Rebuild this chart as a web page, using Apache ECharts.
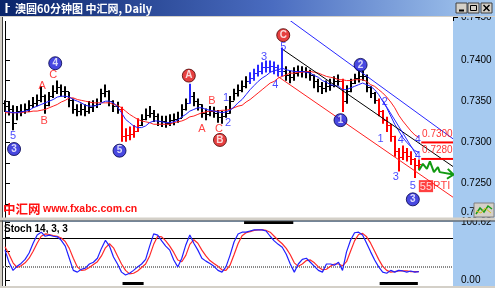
<!DOCTYPE html>
<html><head><meta charset="utf-8">
<script src="https://cdn.jsdelivr.net/npm/echarts@6/dist/echarts.min.js"></script>
<style>html,body{margin:0;padding:0;background:#fff;overflow:hidden}#c{width:495px;height:288px}</style>
</head><body><div id="c"></div>
<script>
// ---- price bars (hourly AUD/USD) ----
const opens = [0.7348,0.7344,0.7340,0.7324,0.7338,0.7338,0.7340,0.7345,0.7348,0.7352,
0.7356,0.7345,0.7356,0.7362,0.7367,0.7362,0.7362,0.7352,0.7340,0.7338,
0.7340,0.7338,0.7343,0.7345,0.7346,0.7360,0.7362,0.7350,0.7344,0.7340,
0.7308,0.7309,0.7310,0.7314,0.7321,0.7328,0.7333,0.7336,0.7332,0.7326,
0.7326,0.7324,0.7327,0.7328,0.7330,0.7340,0.7348,0.7356,0.7350,0.7346,
0.7336,0.7334,0.7338,0.7336,0.7331,0.7332,0.7336,0.7350,0.7360,0.7364,
0.7369,0.7374,0.7378,0.7384,0.7387,0.7391,0.7392,0.7393,0.7391,0.7386,
0.7386,0.7382,0.7379,0.7384,0.7387,0.7386,0.7385,0.7382,0.7374,0.7368,
0.7366,0.7368,0.7370,0.7374,0.7375,0.7350,0.7362,0.7372,0.7378,0.7380,
0.7381,0.7367,0.7360,0.7352,0.7338,0.7327,0.7321,0.7308,0.7290,0.7282,
0.7288,0.7284,0.7280,0.7273];
const closes = [0.7344,0.7340,0.7324,0.7338,0.7338,0.7340,0.7345,0.7348,0.7352,0.7356,
0.7345,0.7356,0.7362,0.7367,0.7362,0.7362,0.7352,0.7340,0.7338,0.7340,
0.7338,0.7343,0.7345,0.7346,0.7360,0.7362,0.7350,0.7344,0.7340,0.7308,
0.7309,0.7310,0.7314,0.7321,0.7328,0.7333,0.7336,0.7332,0.7326,0.7326,
0.7324,0.7327,0.7328,0.7330,0.7340,0.7348,0.7356,0.7350,0.7346,0.7336,
0.7334,0.7338,0.7336,0.7331,0.7332,0.7336,0.7350,0.7360,0.7364,0.7369,
0.7374,0.7378,0.7384,0.7387,0.7391,0.7392,0.7393,0.7391,0.7386,0.7386,
0.7382,0.7379,0.7384,0.7387,0.7386,0.7385,0.7382,0.7374,0.7368,0.7366,
0.7368,0.7370,0.7374,0.7375,0.7350,0.7362,0.7372,0.7378,0.7380,0.7381,
0.7367,0.7360,0.7352,0.7338,0.7327,0.7321,0.7308,0.7290,0.7282,0.7288,
0.7284,0.7280,0.7273,0.7274];
const highs = [0.7350,0.7348,0.7344,0.7343,0.7345,0.7346,0.7350,0.7354,0.7357,0.7367,
0.7357,0.7360,0.7368,0.7374,0.7369,0.7367,0.7360,0.7352,0.7345,0.7346,
0.7345,0.7349,0.7350,0.7352,0.7364,0.7369,0.7362,0.7350,0.7348,0.7342,
0.7316,0.7318,0.7320,0.7328,0.7333,0.7340,0.7343,0.7338,0.7334,0.7331,
0.7331,0.7333,0.7334,0.7336,0.7345,0.7352,0.7370,0.7360,0.7352,0.7345,
0.7340,0.7343,0.7342,0.7338,0.7337,0.7343,0.7355,0.7364,0.7369,0.7374,
0.7379,0.7384,0.7388,0.7393,0.7396,0.7398,0.7398,0.7397,0.7393,0.7414,
0.7391,0.7386,0.7390,0.7392,0.7391,0.7390,0.7387,0.7381,0.7376,0.7372,
0.7374,0.7376,0.7379,0.7381,0.7376,0.7368,0.7376,0.7382,0.7386,0.7386,
0.7381,0.7367,0.7360,0.7352,0.7338,0.7330,0.7321,0.7307,0.7292,0.7295,
0.7292,0.7288,0.7280,0.7278];
const lows = [0.7338,0.7334,0.7316,0.7328,0.7333,0.7336,0.7338,0.7343,0.7345,0.7350,
0.7336,0.7345,0.7355,0.7360,0.7357,0.7355,0.7344,0.7336,0.7333,0.7334,
0.7333,0.7336,0.7338,0.7343,0.7350,0.7356,0.7345,0.7338,0.7336,0.7302,
0.7302,0.7304,0.7307,0.7314,0.7321,0.7328,0.7331,0.7326,0.7321,0.7320,
0.7319,0.7321,0.7322,0.7325,0.7331,0.7340,0.7348,0.7345,0.7340,0.7331,
0.7328,0.7333,0.7331,0.7325,0.7324,0.7331,0.7336,0.7352,0.7357,0.7362,
0.7367,0.7372,0.7376,0.7381,0.7384,0.7386,0.7386,0.7384,0.7381,0.7381,
0.7376,0.7373,0.7376,0.7381,0.7380,0.7379,0.7376,0.7367,0.7362,0.7360,
0.7362,0.7364,0.7368,0.7370,0.7338,0.7348,0.7362,0.7372,0.7374,0.7376,
0.7362,0.7355,0.7348,0.7333,0.7324,0.7314,0.7302,0.7284,0.7266,0.7280,
0.7278,0.7274,0.7258,0.7268];
// ---- moving averages ----
const maFast = [0.7338,0.7337,0.7336,0.7336,0.7337,0.7338,0.7339,0.7342,0.7344,0.7346,
0.7348,0.7350,0.7352,0.7355,0.7356,0.7356,0.7355,0.7352,0.7350,0.7348,
0.7345,0.7344,0.7344,0.7345,0.7348,0.7350,0.7350,0.7348,0.7343,0.7336,
0.7328,0.7324,0.7320,0.7318,0.7318,0.7320,0.7324,0.7326,0.7326,0.7325,
0.7324,0.7324,0.7325,0.7327,0.7331,0.7334,0.7338,0.7340,0.7342,0.7342,
0.7340,0.7339,0.7338,0.7337,0.7336,0.7337,0.7339,0.7343,0.7348,0.7352,
0.7358,0.7364,0.7369,0.7374,0.7378,0.7381,0.7385,0.7387,0.7388,0.7390,
0.7388,0.7387,0.7386,0.7386,0.7386,0.7385,0.7384,0.7381,0.7379,0.7375,
0.7373,0.7370,0.7369,0.7368,0.7364,0.7364,0.7366,0.7368,0.7370,0.7372,
0.7370,0.7368,0.7364,0.7358,0.7350,0.7342,0.7332,0.7322,0.7314,0.7306,
0.7300,0.7295,0.7290,0.7288];
const maSlow = [0.7336,0.7336,0.7336,0.7336,0.7336,0.7337,0.7337,0.7338,0.7338,0.7339,
0.7340,0.7342,0.7344,0.7346,0.7349,0.7351,0.7354,0.7354,0.7352,0.7351,
0.7350,0.7349,0.7348,0.7348,0.7348,0.7348,0.7348,0.7346,0.7345,0.7342,
0.7338,0.7334,0.7331,0.7328,0.7326,0.7325,0.7324,0.7322,0.7322,0.7322,
0.7322,0.7322,0.7324,0.7325,0.7326,0.7328,0.7331,0.7332,0.7334,0.7336,
0.7337,0.7338,0.7338,0.7338,0.7339,0.7339,0.7340,0.7342,0.7344,0.7345,
0.7349,0.7352,0.7356,0.7360,0.7364,0.7368,0.7372,0.7374,0.7378,0.7380,
0.7382,0.7384,0.7384,0.7385,0.7385,0.7386,0.7386,0.7385,0.7384,0.7382,
0.7380,0.7379,0.7378,0.7376,0.7376,0.7375,0.7375,0.7376,0.7376,0.7376,
0.7374,0.7370,0.7368,0.7364,0.7360,0.7355,0.7349,0.7342,0.7333,0.7326,
0.7320,0.7314,0.7309,0.7306];
// ---- stochastic 14,3,3 ----
const stochK = [52,31,17,24,29,36,47,64,78,83,76,78,76,75,69,59,38,17,14,19,
21,28,31,38,55,69,59,40,28,14,9,12,17,23,28,36,59,80,78,68,
59,52,35,23,38,61,78,64,52,38,33,29,24,17,14,23,43,66,80,83,
83,85,87,87,87,85,76,68,62,57,45,28,14,28,36,38,31,24,17,14,
28,28,26,31,17,49,69,82,83,78,64,49,35,23,14,12,17,14,17,16,
14,16,14,15];
const stochD = [58,45,30,22,25,30,38,50,64,76,80,79,77,76,73,67,55,38,23,17,
18,22,27,32,42,56,63,56,42,28,17,11,12,16,22,28,42,62,76,75,
68,59,48,35,32,43,62,70,64,52,42,34,29,24,18,17,26,44,63,77,
82,84,86,87,87,86,83,76,69,63,55,44,30,24,28,34,35,30,23,18,
19,24,28,28,25,32,50,68,79,81,75,64,50,36,24,17,14,15,16,16,
16,15,15,15];
const stochLevels = [72, 23];
const stochTopBars = [[59.5, 71.75]];
const stochBottomBars = [[29.25, 34.5], [93.25, 102.75]];
// ---- axis ticks ----
const priceLabels = [0.7250, 0.7300, 0.7350, 0.7400];
const priceTopLabel = '0.7450';
const priceBottomLabel = '0.7210';
const priceTicks = [0.7225,0.7250,0.7275,0.7300,0.7325,0.7350,0.7375,0.7400,0.7425];
const stochLabels = [0, 100.62];
const stochTicks = [0, 25, 50, 75, 100];
// ---- Elliott wave annotations [barIndex, price, text] ----
const circledBlue = [[2.25,0.7292,'3'],[12.5,0.7396,'4'],[28.5,0.7290,'5'],[83.5,0.7327,'1'],[88.5,0.7394,'2'],[101.5,0.7231,'3']];
const circledRed = [[45.75,0.7381,'A'],[53.5,0.7303,'B'],[69.25,0.7430,'C']];
const waveBlue = [[2,0.7308,'5'],[55,0.7354,'1'],[55.5,0.7324,'2'],[64.5,0.7404,'3'],[67.25,0.7370,'4'],[69.25,0.7416,'5'],
  [93.5,0.7304,'1'],[94.5,0.7349,'2'],[97.25,0.7258,'3'],[98.5,0.7303,'4'],[101.5,0.7247,'5'],[102.75,0.7303,'4'],[102.75,0.7284,'4']];
const waveRed = [[9.25,0.7369,'A'],[9.75,0.7326,'B'],[12,0.7382,'C'],[49,0.7316,'A'],[51.5,0.7350,'B'],[53.25,0.7316,'C']];
const channelBlue = [[67.5,0.7460],[111.5,0.73044]];
const channelBlack = [[69.2,0.74124],[111.5,0.72708]];
const channelRed = [[67.9,0.7380],[111.5,0.72336]];
const waveLine = [[93.8,0.73524],[102.5,0.7284]];
const targets = [0.7300, 0.7280];
const targetSpan = [103.6, 111.5];
const targetTextX = 107.6;
const ptiPoint = [106.9, 0.7247];
const arrowPath = [[103,0.7266],[104,0.7274],[105,0.7268],[105.75,0.7277],[106.75,0.7264],[107.75,0.7270],[108.2,0.7264],[111.6,0.7261]];
const arrowHead = [[110.2,0.7268],[111.6,0.7261],[110.0,0.7256]];

const FONT = '"Liberation Sans", Arial, sans-serif';
const CJK = '"Noto Sans CJK SC", "Liberation Sans", sans-serif';
const barColorRanges = [{from:29,to:33,c:'#ff0000'},{from:84,to:84,c:'#ff0000'},{from:93,to:103,c:'#ff0000'},{from:46,to:46,c:'#2a2aff'},{from:61,to:69,c:'#2a2aff'}];
function barColor(i){ for (const r of barColorRanges) if (i>=r.from && i<=r.to) return r.c; return '#000'; }

const chart = echarts.init(document.getElementById('c'), null, {renderer:'canvas', width:495, height:288});

function seg(data, color, width, extra) {
  return Object.assign({type:'line', xAxisIndex:0, yAxisIndex:0, data:data, showSymbol:false, symbol:'none', silent:true,
    lineStyle:{color:color, width:width}, z:3, animation:false}, extra||{});
}
function textSeries(data, color, extra) {
  return Object.assign({type:'scatter', xAxisIndex:0, yAxisIndex:0, data:data, symbolSize:1, silent:true, z:6,
    itemStyle:{color:'rgba(0,0,0,0)'},
    label:{show:true, position:'inside', formatter:p=>p.value[2], color:color, fontSize:11, fontFamily:FONT}}, extra||{});
}

const series = [
  {type:'custom', xAxisIndex:0, yAxisIndex:0, silent:true, z:2,
   data: closes.map((c,i)=>[i, highs[i], lows[i], c, opens[i]]),
   encode:{x:0, y:[1,2,3,4]},
   renderItem:(params, api)=>{
     const x = api.value(0);
     const h = api.coord([x, api.value(1)]), l = api.coord([x, api.value(2)]);
     const c = api.coord([x, api.value(3)]), o = api.coord([x, api.value(4)]);
     const px = Math.round(h[0]);
     const cy = Math.round(c[1]) + 0.5, oy = Math.round(o[1]) + 0.5;
     const col = barColor(params.dataIndex);
     return {type:'group', children:[
       {type:'line', shape:{x1:px, y1:h[1]-1, x2:px, y2:l[1]+1}, style:{stroke:col, lineWidth:2}},
       {type:'line', shape:{x1:px, y1:cy, x2:px+2.5, y2:cy}, style:{stroke:col, lineWidth:1}},
       {type:'line', shape:{x1:px-2.5, y1:oy, x2:px, y2:oy}, style:{stroke:col, lineWidth:1}}
     ]};
   }},
  seg(maSlow.map((v,i)=>[i,v]), '#ff2020', 1),
  seg(maFast.map((v,i)=>[i,v]), '#2020ff', 1),
  seg(channelBlue, '#2828ff', 1),
  seg(channelBlack, '#000', 1),
  seg(channelRed, '#ff2020', 1),
  seg(waveLine, '#2828ff', 1),
  ...targets.map(t=>seg([[targetSpan[0],t],[targetSpan[1],t]], '#ff0000', 2)),
  seg(arrowPath, '#129a12', 2),
  seg(arrowHead, '#129a12', 2),
  textSeries(waveBlue, '#1818ff'),
  textSeries(waveRed, '#ff1010'),
  textSeries(targets.map(t=>[targetTextX, t+0.0010, t.toFixed(4)]), '#ff0000', {label:{show:true, position:'inside', formatter:p=>p.value[2], color:'#ff0000', fontSize:10, fontFamily:FONT}}),
  textSeries([[ptiPoint[0], ptiPoint[1], 'PTI']], '#ff0000', {label:{show:true, position:'inside',
     formatter:()=>'{a|55}{b|PTI}', rich:{a:{backgroundColor:'#ff1010', color:'#fff', fontSize:11, fontFamily:FONT, padding:[1,1,0,1]},
       b:{color:'#ff1010', fontSize:11, fontFamily:FONT}}}}),
  {type:'scatter', xAxisIndex:0, yAxisIndex:0, data:circledBlue, symbol:'circle', symbolSize:13, silent:true, z:7,
   itemStyle:{color:'#1a1ad8', borderColor:'#00004a', borderWidth:1},
   label:{show:true, position:'inside', formatter:p=>p.value[2], color:'#fff', fontSize:10, fontWeight:'bold', fontFamily:FONT}},
  {type:'scatter', xAxisIndex:0, yAxisIndex:0, data:circledRed, symbol:'circle', symbolSize:13, silent:true, z:7,
   itemStyle:{color:'#e01010', borderColor:'#4a0000', borderWidth:1},
   label:{show:true, position:'inside', formatter:p=>p.value[2], color:'#fff', fontSize:10, fontWeight:'bold', fontFamily:FONT}},
  // stochastic
  {type:'line', xAxisIndex:1, yAxisIndex:1, data:stochD.map((v,i)=>[i,v]), showSymbol:false, symbol:'none', silent:true,
   lineStyle:{color:'#ff2a2a', width:1.2}, z:3,
   markLine:{silent:true, symbol:'none', label:{show:false}, animation:false, z:2,
     data:[
       {yAxis:stochLevels[0], lineStyle:{color:'#000', width:1, type:'solid'}},
       {yAxis:stochLevels[1], lineStyle:{color:'#8a8a8a', width:2, type:[1,1]}},
       ...stochTopBars.map(b=>[{coord:[b[0],100.62], lineStyle:{color:'#000', width:3, type:'solid'}},{coord:[b[1],100.62]}]),
       ...stochBottomBars.map(b=>[{coord:[b[0],-5.2], lineStyle:{color:'#000', width:3, type:'solid'}},{coord:[b[1],-5.2]}])
     ]}},
  {type:'line', xAxisIndex:1, yAxisIndex:1, data:stochK.map((v,i)=>[i,v]), showSymbol:false, symbol:'none', silent:true,
   lineStyle:{color:'#2020ff', width:1.2}, z:4}
];

const option = {
  animation:false,
  backgroundColor:'#a6caf0',
  grid:[
    {left:3, top:20, width:450, height:198, show:true, backgroundColor:'#fff', borderWidth:0},
    {left:3, top:222, width:450, height:64, show:true, backgroundColor:'#fff', borderWidth:0}
  ],
  xAxis:[
    {type:'value', gridIndex:0, min:-0.5, max:111.5, show:false},
    {type:'value', gridIndex:1, min:-0.5, max:111.5, show:false}
  ],
  yAxis:[
    {type:'value', gridIndex:0, position:'right', min:0.72084, max:0.74484, splitLine:{show:false},
     axisLine:{show:true, lineStyle:{color:'#000'}},
     axisTick:{show:true, length:5, customValues:priceTicks, lineStyle:{color:'#000'}},
     axisLabel:{customValues:priceLabels, formatter:v=>v.toFixed(4), color:'#000', fontSize:10, fontFamily:FONT, margin:8}},
    {type:'value', gridIndex:1, position:'right', min:-10, max:100.62, splitLine:{show:false},
     axisLine:{show:true, lineStyle:{color:'#000'}},
     axisTick:{show:true, length:5, customValues:stochTicks, lineStyle:{color:'#000'}},
     axisLabel:{customValues:stochLabels, formatter:v=>v.toFixed(2), color:'#000', fontSize:10, fontFamily:FONT, margin:8, showMaxLabel:true}}
  ],
  series: series,
  graphic:[
    {type:'rect', z:99, shape:{x:3,y:15,width:450,height:6}, style:{fill:'#fff'}},
    {type:'line', z:100, shape:{x1:453.5,y1:15,x2:453.5,y2:21}, style:{stroke:'#000', lineWidth:1}},
    {type:'line', z:100, shape:{x1:453,y1:17.5,x2:458,y2:17.5}, style:{stroke:'#000', lineWidth:1}},
    {type:'text', z:100, style:{x:461, y:17, text:priceTopLabel, fill:'#000', font:'10px '+FONT, verticalAlign:'middle'}},
    {type:'rect', z:100, shape:{x:0,y:16,width:2,height:272}, style:{fill:'#d4d0c8'}},
    {type:'line', z:100, shape:{x1:2.5,y1:16,x2:2.5,y2:287}, style:{stroke:'#404040', lineWidth:1}},
    {type:'rect', z:100, shape:{x:0,y:0,width:495,height:16},
     style:{fill:new echarts.graphic.LinearGradient(0,0,1,0,[{offset:0,color:'#0a246a'},{offset:0.55,color:'#4a6cc0'},{offset:1,color:'#a6caf0'}])}},
    {type:'rect', z:100, shape:{x:0,y:16,width:495,height:1}, style:{fill:'#d4d0c8'}},
    {type:'line', z:101, shape:{x1:6.5,y1:3,x2:6.5,y2:13}, style:{stroke:'#fff', lineWidth:2}},
    {type:'line', z:101, shape:{x1:6,y1:6.5,x2:10,y2:6.5}, style:{stroke:'#fff', lineWidth:1}},
    {type:'text', z:101, style:{x:15, y:8.5, text:'澳圆60分钟图 中汇网, Daily', fill:'#fff', font:'bold 11px '+CJK, verticalAlign:'middle'}},
    {type:'rect', z:101, shape:{x:456,y:3,width:11,height:10}, style:{fill:'#d4d0c8', stroke:'#404040', lineWidth:1}},
    {type:'rect', z:101, shape:{x:468,y:3,width:11,height:10}, style:{fill:'#d4d0c8', stroke:'#404040', lineWidth:1}},
    {type:'rect', z:101, shape:{x:481,y:3,width:11,height:10}, style:{fill:'#d4d0c8', stroke:'#404040', lineWidth:1}},
    {type:'line', z:102, shape:{x1:459,y1:10.5,x2:464,y2:10.5}, style:{stroke:'#000', lineWidth:2}},
    {type:'rect', z:102, shape:{x:470.5,y:5.5,width:6,height:5}, style:{fill:'none', stroke:'#000', lineWidth:1}},
    {type:'line', z:102, shape:{x1:483.5,y1:5,x2:489.5,y2:11}, style:{stroke:'#000', lineWidth:1.5}},
    {type:'line', z:102, shape:{x1:489.5,y1:5,x2:483.5,y2:11}, style:{stroke:'#000', lineWidth:1.5}},
    {type:'text', z:50, style:{x:3, y:209, text:'中汇网', fill:'#ff1010', font:'bold 12.5px '+CJK, verticalAlign:'middle'}},
    {type:'text', z:50, style:{x:43, y:209.5, text:'www.fxabc.com.cn', fill:'#ff1010', font:'bold 10.5px '+FONT, verticalAlign:'middle'}},
    {type:'rect', z:100, shape:{x:0,y:217.5,width:495,height:3}, style:{fill:'#d4d0c8'}},
    {type:'line', z:100, shape:{x1:0,y1:221,x2:495,y2:221}, style:{stroke:'#404040', lineWidth:1}},
    {type:'rect', z:100, shape:{x:0,y:286,width:495,height:2}, style:{fill:'#d4d0c8'}},
    {type:'text', z:100, style:{x:461, y:212, text:priceBottomLabel, fill:'#000', font:'10px '+FONT, verticalAlign:'middle'}},
    {type:'rect', z:101, shape:{x:474,y:203,width:20,height:14}, style:{fill:'#d4d0c8', stroke:'#808080', lineWidth:1}},
    {type:'polyline', z:102, shape:{points:[[476,214],[480,208],[484,212],[488,206],[492,209]]}, style:{stroke:'#1a9a1a', fill:'none', lineWidth:1.5}},
    {type:'polyline', z:102, shape:{points:[[476,211],[481,213],[485,208],[491,213]]}, style:{stroke:'#d8c020', fill:'none', lineWidth:1}},
    {type:'text', z:50, style:{x:4, y:229, text:'Stoch 14, 3, 3', fill:'#000', font:'bold 10px '+FONT, verticalAlign:'middle'}}
  ]
};
chart.setOption(option);
</script></body></html>
